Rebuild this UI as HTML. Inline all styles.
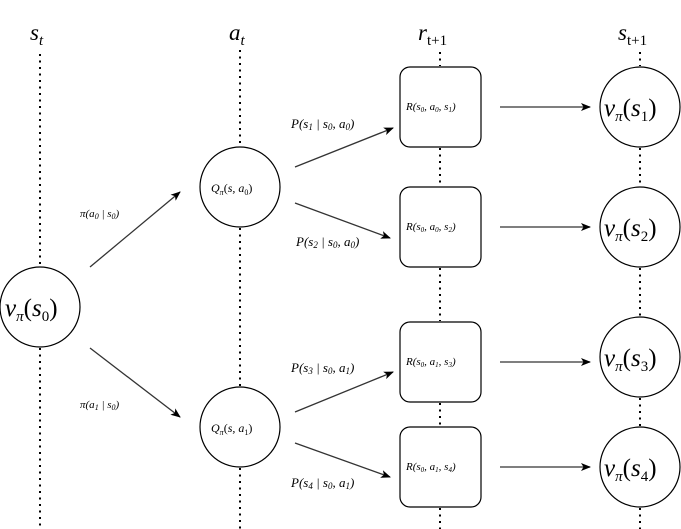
<!DOCTYPE html>
<html><head><meta charset="utf-8"><style>
html,body{margin:0;padding:0;background:#fff;}
svg{display:block;}
svg text{font-family:"Liberation Serif","DejaVu Serif",serif;font-style:italic;fill:#000;}
</style></head><body>
<svg width="681" height="529" viewBox="0 0 681 529" xmlns="http://www.w3.org/2000/svg" font-family="Liberation Serif, DejaVu Serif, serif">
<defs>
<marker id="ah" markerWidth="10" markerHeight="8" refX="9" refY="4" orient="auto" markerUnits="userSpaceOnUse">
<path d="M0,0 L10,4 L0,8 L2.5,4 Z" fill="#000"/>
</marker>
</defs>
<g stroke="#000" stroke-width="2" stroke-dasharray="2 4.5" fill="none">
<line x1="40" y1="54" x2="40" y2="266"/>
<line x1="40" y1="348" x2="40" y2="529"/>
<line x1="240" y1="50" x2="240" y2="147"/>
<line x1="240" y1="228" x2="240" y2="386"/>
<line x1="240" y1="468" x2="240" y2="529"/>
<line x1="440" y1="52" x2="440" y2="66"/>
<line x1="440" y1="148" x2="440" y2="186"/>
<line x1="440" y1="268" x2="440" y2="321"/>
<line x1="440" y1="403" x2="440" y2="426"/>
<line x1="440" y1="508" x2="440" y2="529"/>
<line x1="640" y1="52" x2="640" y2="66"/>
<line x1="640" y1="148" x2="640" y2="186"/>
<line x1="640" y1="268" x2="640" y2="316"/>
<line x1="640" y1="398" x2="640" y2="426"/>
<line x1="640" y1="508" x2="640" y2="529"/>
</g>
<g stroke="#000" stroke-width="1.2" fill="#fff">
<circle cx="40" cy="307" r="40"/>
<circle cx="240" cy="187" r="40"/>
<circle cx="240" cy="427" r="40"/>
<rect x="400" y="67" width="81" height="80" rx="10"/>
<rect x="400" y="187" width="81" height="80" rx="10"/>
<rect x="400" y="322" width="81" height="80" rx="10"/>
<rect x="400" y="427" width="81" height="80" rx="10"/>
<circle cx="640" cy="107" r="40"/>
<circle cx="640" cy="227" r="40"/>
<circle cx="640" cy="357" r="40"/>
<circle cx="640" cy="467" r="40"/>
</g>
<g stroke="#333" stroke-width="1.3" fill="none" marker-end="url(#ah)">
<line x1="90" y1="267" x2="180" y2="192"/>
<line x1="90" y1="348" x2="180" y2="417"/>
<line x1="295" y1="167" x2="393" y2="128"/>
<line x1="295" y1="203" x2="390" y2="238"/>
<line x1="295" y1="412" x2="393" y2="372"/>
<line x1="295" y1="443" x2="390" y2="477"/>
<line x1="500" y1="107" x2="590" y2="107"/>
<line x1="500" y1="227" x2="590" y2="227"/>
<line x1="500" y1="362" x2="590" y2="362"/>
<line x1="500" y1="467" x2="590" y2="467"/>
</g>
<g font-size="23">
<text x="30" y="40">s<tspan font-size="15" dy="5">t</tspan></text>
<text x="229" y="40">a<tspan font-size="15" dy="5">t</tspan></text>
<text x="418" y="40">r<tspan font-size="15" dy="5" font-style="normal">t+1</tspan></text>
<text x="618" y="40">s<tspan font-size="15" dy="5" font-style="normal">t+1</tspan></text>
</g>
<g font-size="25">
<text x="5" y="316">v<tspan font-size="15" dy="5">π</tspan><tspan dy="-5" font-style="normal">(</tspan>s<tspan font-size="15" dy="5" font-style="normal">0</tspan><tspan dy="-5" font-style="normal">)</tspan></text>
<text x="604" y="116">v<tspan font-size="15" dy="5">π</tspan><tspan dy="-5" font-style="normal">(</tspan>s<tspan font-size="15" dy="5" font-style="normal">1</tspan><tspan dy="-5" font-style="normal">)</tspan></text>
<text x="604" y="236">v<tspan font-size="15" dy="5">π</tspan><tspan dy="-5" font-style="normal">(</tspan>s<tspan font-size="15" dy="5" font-style="normal">2</tspan><tspan dy="-5" font-style="normal">)</tspan></text>
<text x="604" y="366">v<tspan font-size="15" dy="5">π</tspan><tspan dy="-5" font-style="normal">(</tspan>s<tspan font-size="15" dy="5" font-style="normal">3</tspan><tspan dy="-5" font-style="normal">)</tspan></text>
<text x="604" y="476">v<tspan font-size="15" dy="5">π</tspan><tspan dy="-5" font-style="normal">(</tspan>s<tspan font-size="15" dy="5" font-style="normal">4</tspan><tspan dy="-5" font-style="normal">)</tspan></text>
</g>
<g font-size="12">
<text x="211" y="192">Q<tspan font-size="8" dy="3">π</tspan><tspan dy="-3" font-style="normal">(</tspan>s, a<tspan font-size="8" dy="3" font-style="normal">0</tspan><tspan dy="-3" font-style="normal">)</tspan></text>
<text x="211" y="432">Q<tspan font-size="8" dy="3">π</tspan><tspan dy="-3" font-style="normal">(</tspan>s, a<tspan font-size="8" dy="3" font-style="normal">1</tspan><tspan dy="-3" font-style="normal">)</tspan></text>
</g>
<g font-size="11">
<text x="406" y="110">R(s<tspan font-size="7" dy="2">0</tspan><tspan dy="-2">, a</tspan><tspan font-size="7" dy="2">0</tspan><tspan dy="-2">, s</tspan><tspan font-size="7" dy="2">1</tspan><tspan dy="-2">)</tspan></text>
<text x="406" y="230">R(s<tspan font-size="7" dy="2">0</tspan><tspan dy="-2">, a</tspan><tspan font-size="7" dy="2">0</tspan><tspan dy="-2">, s</tspan><tspan font-size="7" dy="2">2</tspan><tspan dy="-2">)</tspan></text>
<text x="406" y="365">R(s<tspan font-size="7" dy="2">0</tspan><tspan dy="-2">, a</tspan><tspan font-size="7" dy="2">1</tspan><tspan dy="-2">, s</tspan><tspan font-size="7" dy="2">3</tspan><tspan dy="-2">)</tspan></text>
<text x="406" y="470">R(s<tspan font-size="7" dy="2">0</tspan><tspan dy="-2">, a</tspan><tspan font-size="7" dy="2">1</tspan><tspan dy="-2">, s</tspan><tspan font-size="7" dy="2">4</tspan><tspan dy="-2">)</tspan></text>
<text x="80" y="217">π(a<tspan font-size="8" dy="2">0</tspan><tspan dy="-2"> | s</tspan><tspan font-size="8" dy="2">0</tspan><tspan dy="-2">)</tspan></text>
<text x="80" y="408">π(a<tspan font-size="8" dy="2">1</tspan><tspan dy="-2"> | s</tspan><tspan font-size="8" dy="2">0</tspan><tspan dy="-2">)</tspan></text>
</g>
<g font-size="13">
<text x="291" y="128">P(s<tspan font-size="9" dy="2">1</tspan><tspan dy="-2"> | s</tspan><tspan font-size="9" dy="2">0</tspan><tspan dy="-2">, a</tspan><tspan font-size="9" dy="2">0</tspan><tspan dy="-2">)</tspan></text>
<text x="296" y="246">P(s<tspan font-size="9" dy="2">2</tspan><tspan dy="-2"> | s</tspan><tspan font-size="9" dy="2">0</tspan><tspan dy="-2">, a</tspan><tspan font-size="9" dy="2">0</tspan><tspan dy="-2">)</tspan></text>
<text x="291" y="372">P(s<tspan font-size="9" dy="2">3</tspan><tspan dy="-2"> | s</tspan><tspan font-size="9" dy="2">0</tspan><tspan dy="-2">, a</tspan><tspan font-size="9" dy="2">1</tspan><tspan dy="-2">)</tspan></text>
<text x="291" y="487">P(s<tspan font-size="9" dy="2">4</tspan><tspan dy="-2"> | s</tspan><tspan font-size="9" dy="2">0</tspan><tspan dy="-2">, a</tspan><tspan font-size="9" dy="2">1</tspan><tspan dy="-2">)</tspan></text>
</g>
</svg>
</body></html>
